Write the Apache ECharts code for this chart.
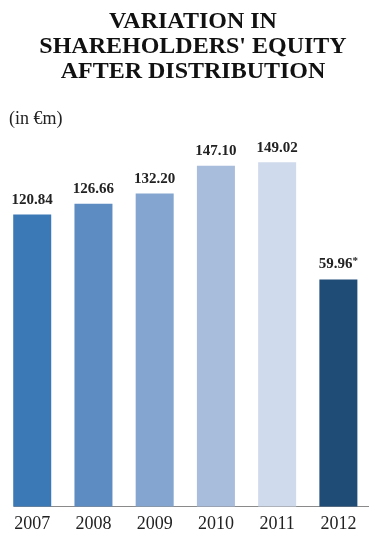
<!DOCTYPE html>
<html>
<head>
<meta charset="utf-8">
<script src="https://cdn.jsdelivr.net/npm/echarts@6/dist/echarts.min.js"></script>
<style>
html,body{margin:0;padding:0;background:#fff;}
#c{width:369px;height:535px;}
</style>
</head>
<body>
<div id="c"></div>
<script>
const years = ['2007', '2008', '2009', '2010', '2011', '2012'];
const values = [120.84, 126.66, 132.20, 147.10, 149.02, 59.96];
const notes = ['', '', '', '', '', '*'];
const onSecondScale = [false, false, false, false, false, true];
const barColors = ['#3a79b6', '#5d8cc2', '#83a5d0', '#a8bcdc', '#cfdaec', '#1f4b77'];

const serif = '"Liberation Serif", "DejaVu Serif", serif';

function makeData(second) {
  const out = [];
  values.forEach((v, i) => { if (onSecondScale[i] === second) out.push([i, v]); });
  return out;
}

const rich = {
  v: { fontFamily: serif, fontWeight: 'bold', fontSize: 15, fill: '#222', color: '#222' },
  s: { fontFamily: serif, fontWeight: 'bold', fontSize: 11, fill: '#222', color: '#222', verticalAlign: 'top', padding: [0, 0, 6, 0] }
};

function renderItem(params, api) {
  const i = api.value(0);
  const v = api.value(1);
  const topPt = api.coord([i, v]);
  const cs = params.coordSys;
  const bottom = cs.y + cs.height;
  const w = 38;
  const txt = '{v|' + v.toFixed(2) + '}' + (notes[i] ? '{s|' + notes[i] + '}' : '');
  return {
    type: 'rect',
    shape: { x: topPt[0] - w / 2, y: topPt[1], width: w, height: bottom - topPt[1] },
    style: { fill: barColors[i] },
    textContent: { style: { text: txt, rich: rich } },
    textConfig: { position: 'top', distance: 7 }
  };
}

const chart = echarts.init(document.getElementById('c'), null, { renderer: 'canvas' });
chart.setOption({
  animation: false,
  backgroundColor: '#fff',
  title: {
    text: 'VARIATION IN\nSHAREHOLDERS\' EQUITY\nAFTER DISTRIBUTION',
    left: 193,
    top: 9,
    padding: 0,
    textAlign: 'center',
    textStyle: { fontFamily: serif, fontWeight: 'bold', fontSize: 24, lineHeight: 25, color: '#111', align: 'center' }
  },
  graphic: [{
    type: 'text',
    left: 9,
    top: 110,
    style: { text: '(in €m)', font: '18px ' + serif, fill: '#222' }
  }],
  grid: [
    { left: 1.6, width: 376.8, top: 100, bottom: 28.5 },
    { left: 14, right: 0, top: 100, bottom: 28.5 }
  ],
  xAxis: [
    {
      type: 'category', gridIndex: 0, data: years,
      axisLine: { show: false }, axisTick: { show: false },
      axisLabel: { margin: 9, fontFamily: serif, fontSize: 18, color: '#222' }
    },
    {
      type: 'value', gridIndex: 1, min: 0, max: 1,
      axisLine: { show: true, lineStyle: { color: '#8a8a8a', width: 1 } },
      axisTick: { show: false }, axisLabel: { show: false }, splitLine: { show: false }
    }
  ],
  yAxis: [
    { type: 'value', gridIndex: 0, min: -37, max: 182.7, show: false, splitLine: { show: false } },
    { type: 'value', gridIndex: 0, min: -62.7, max: 157.0, show: false, splitLine: { show: false } },
    { type: 'value', gridIndex: 1, min: 0, max: 1, show: false, splitLine: { show: false } }
  ],
  series: [
    { type: 'custom', xAxisIndex: 0, yAxisIndex: 0, renderItem: renderItem, data: makeData(false), z: 3 },
    { type: 'custom', xAxisIndex: 0, yAxisIndex: 1, renderItem: renderItem, data: makeData(true), z: 3 }
  ]
});
</script>
</body>
</html>
